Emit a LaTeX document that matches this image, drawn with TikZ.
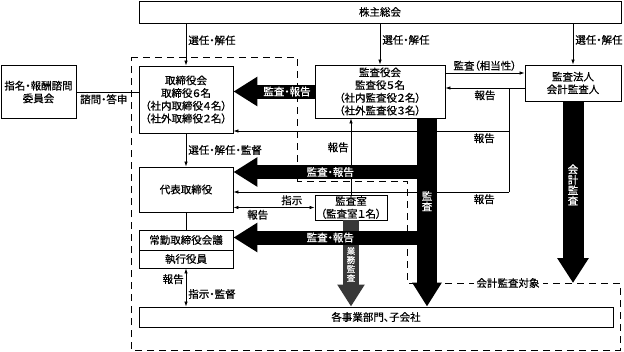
\documentclass[tikz,border=0pt]{standalone}
\usepackage{fontspec}
\setmainfont{Noto Sans CJK JP}[CharacterWidth=AlternateProportional, FakeBold=0.6, AutoFakeBold=0.6]
\usetikzlibrary{arrows.meta, positioning, calc}

\tikzset{
  box/.style={draw, line width=0.9pt, fill=white, inner sep=0pt, align=center,
    font=\fontsize{10.5}{12.7}\selectfont\bfseries},
  lbl/.style={font=\fontsize{10.5}{12}\selectfont\bfseries, inner sep=2pt},
  thin/.style={line width=0.7pt},
  tip/.style={-{Latex[length=5pt,width=3.5pt]}},
  tips/.style={{Latex[length=5pt,width=3.5pt]}-{Latex[length=5pt,width=3.5pt]}},
  bigarrow/.style={line width=14pt, -{Triangle[length=24pt,width=28pt]}},
  wlbl/.style={text=white, inner sep=0pt, align=center, font=\fontsize{10.5}{10.5}\selectfont\bfseries},
  zone/.style={line width=0.9pt, dash pattern=on 7pt off 5pt},
}

\begin{document}
\begin{tikzpicture}[x=1pt, y=-1pt]
  \useasboundingbox (0,0) rectangle (624,351);

  % group area
  \draw[zone] (131,57) -- (297,57) -- (297,181) -- (407,181) -- (407,283)
    -- (620,283) -- (620,350) -- (131,350) -- cycle;
  \node[lbl, fill=white, inner sep=3pt] (taisho) at (508,283) {会計監査対象};

  % boxes
  \node[box, minimum width=482pt, minimum height=22pt] (soukai) at (380,12) {株主総会};
  \node[box, minimum width=75pt, minimum height=53pt] (iinkai) at (38.5,92) {指名・報酬諮問\\委員会};
  \node[box, minimum width=94pt, minimum height=67pt] (torishimari) at (186,99.5)
    {取締役会\\取締役６名\\（社内取締役４名）\\（社外取締役２名）};
  \node[box, minimum width=130pt, minimum height=53pt] (kansayaku) at (380,91.5)
    {監査役会\\監査役５名\\（社内監査役２名）\\（社外監査役３名）};
  \node[box, minimum width=96pt, minimum height=36pt] (houjin) at (573,83) {監査法人\\会計監査人};
  \node[box, minimum width=94pt, minimum height=45pt] (daihyo) at (186,189.5) {代表取締役};
  \node[box, minimum width=94pt, minimum height=20pt] (joukin) at (186,240) {常勤取締役会議};
  \node[box, minimum width=94pt, minimum height=18pt] (shikkou) at (186,259) {執行役員};
  \node[box, minimum width=72pt, minimum height=25pt] (kansashitsu) at (351,207.5) {監査室\\（監査室１名）};
  \node[box, minimum width=474pt, minimum height=20pt] (jigyo) at (376,317) {各事業部門、子会社};

  % appointment
  \draw[thin, tip] (soukai.south -| torishimari.north) -- (torishimari.north) node[lbl, pos=0.4, right] {選任・解任};
  \draw[thin, tip] (soukai.south -| kansayaku.north) -- (kansayaku.north) node[lbl, pos=0.4, right] {選任・解任};
  \draw[thin, tip] (soukai.south -| houjin.north) -- (houjin.north) node[lbl, pos=0.4, right] {選任・解任};
  \draw[thin] (iinkai.east) -- (iinkai.east -| torishimari.west) node[lbl, pos=0.44, below] {諮問・答申};

  % auditor and accounting auditor
  \draw[thin, tip] ([yshift=18.5pt]kansayaku.east) -- ([yshift=10pt]houjin.west) node[lbl, midway, above] {監査（相当性）};
  \draw[thin, tip] ([yshift=-5pt]houjin.west) -- ([yshift=3.5pt]kansayaku.east) node[lbl, midway, below] {報告};
  \coordinate (br1) at (509,88);
  \coordinate (br2) at (509,131);
  \coordinate (br3) at (509,192);
  \draw[thin] (br1) -- (br3);
  \draw[thin, tip] (br2) -- (br2 -| torishimari.east) node[lbl, pos=0.09, below] {報告};
  \draw[thin, tip] (br3) -- (br3 -| daihyo.east) node[lbl, pos=0.09, below] {報告};

  % execution
  \draw[thin, tip] (torishimari.south) -- (daihyo.north) node[lbl, midway, right] {選任・解任・監督};
  \draw[thin] (daihyo.south) -- (joukin.north);
  \draw[thin, tips] (shikkou.south) -- (shikkou.south |- jigyo.north)
    node[lbl, pos=0.28, left] {報告} node[lbl, pos=0.67, right] {指示・監督};
  \draw[thin, tips] (daihyo.east |- kansashitsu.west) -- (kansashitsu.west)
    node[lbl, pos=0.72, above] {指示} node[lbl, pos=0.3, below] {報告};
  \draw[thin, tip] (kansashitsu.north) -- (kansashitsu.north |- kansayaku.south) node[lbl, pos=0.62, left] {報告};

  % audit arrows
  \draw[bigarrow, line width=16pt, draw=black!78, -{Triangle[length=22pt,width=26pt]}]
    (kansashitsu.south) -- (kansashitsu.south |- jigyo.north)
    node[wlbl, pos=0.51, font=\fontsize{8.5}{9}\selectfont\bfseries] {業\\務\\監\\査};
  \coordinate (bar) at ([xshift=47pt]kansayaku.south);
  \coordinate (a2) at ([yshift=17.5pt]daihyo.east);
  \coordinate (a3) at ([yshift=2.5pt]joukin.east);
  \draw[bigarrow] (kansayaku.west) -- (kansayaku.west -| torishimari.east) node[wlbl, pos=0.34] {監査・報告};
  \draw[bigarrow] (a2 -| bar) -- (a2) node[wlbl, midway] {監査・報告};
  \draw[bigarrow] (a3 -| bar) -- (a3) node[wlbl, midway] {監査・報告};
  \draw[bigarrow, line width=20pt] (bar) -- (bar |- jigyo.north) node[wlbl, pos=0.44] {監\\査};
  \draw[bigarrow, line width=21pt, -{Triangle[length=25pt,width=30pt]}]
    (houjin.south) -- (houjin.south |- taisho) node[wlbl, pos=0.46] {会\\計\\監\\査};
\end{tikzpicture}
\end{document}
